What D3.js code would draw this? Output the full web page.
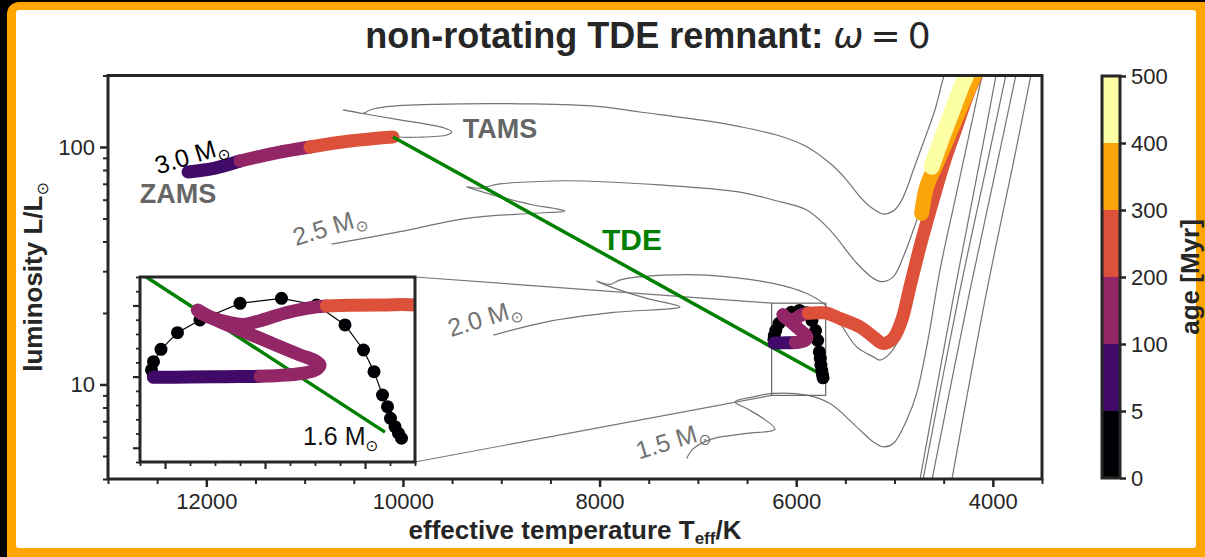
<!DOCTYPE html>
<html>
<head>
<meta charset="utf-8">
<script src="https://cdn.jsdelivr.net/npm/d3@7"></script>
<style>
  html, body { margin: 0; padding: 0; background: #000; }
  svg { display: block; font-family: "Liberation Sans", Arial, sans-serif; }
</style>
</head>
<body>
<svg id="chart" width="1205" height="557"></svg>
<script>
// ---------- axes ----------
const tempDomain = [13000, 3500];
const lumDomain = [4, 200];
const tempTicks = [12000, 10000, 8000, 6000, 4000];
const tempMinor = d3.range(3500, 13001, 500).filter(t => !tempTicks.includes(t));
const lumTicks = [10, 100];
const lumMinor = [4, 5, 6, 7, 8, 9, 20, 30, 40, 50, 60, 70, 80, 90, 200];

// zoom window
const insetTemp = [6250, 5700];
const insetLum = [9, 22];
const insetTempMajor = [6200, 6000, 5800];
const insetTempMinor = d3.range(5700, 6251, 50).filter(t => !insetTempMajor.includes(t));
const insetLumMajor = [10, 15, 20];
const insetLumMinor = d3.range(9, 23, 1).filter(l => !insetLumMajor.includes(l));

// age colour bins (Myr)
const ageBounds = [0, 5, 100, 200, 300, 400, 500];
const ageColors = ["#000004", "#420a68", "#932667", "#dd513a", "#fca50a", "#fcffa4"];

// ---------- evolutionary tracks [Teff, L/Lsun] ----------
const track30 = [
  [10101, 110.2], [9860, 109.9], [9555, 112.3], [9504, 116.0], [9590, 120.6], [10030, 130.0],
  [10369, 137.4], [10607, 143.2], [10505, 140.8], [10403, 138.7], [10335, 143.2], [10165, 147.9],
  [9691, 151.3], [8674, 151.8], [7996, 147.9], [7589, 140.4], [6979, 130.0], [6572, 121.8],
  [6165, 111.3], [5893, 100.3], [5656, 85.4], [5504, 74.0], [5351, 61.7], [5229, 55.3],
  [5114, 52.2], [5016, 53.7], [4945, 57.9], [4873, 67.2], [4809, 80.0], [4690, 109.1],
  [4589, 143.2], [4504, 194.8], [4456, 221.6]
];
const track25 = [
  [10725, 39.0], [10030, 44.0], [9352, 50.1], [8674, 52.6], [8352, 53.7], [8471, 55.2],
  [8674, 57.0], [9013, 61.7], [9285, 66.5], [9352, 68.0], [9216, 67.0], [9148, 68.0],
  [9013, 69.9], [8674, 71.4], [8335, 72.1], [7386, 69.2], [6572, 64.6], [6233, 59.8],
  [5893, 54.3], [5656, 44.7], [5384, 32.4], [5216, 28.0], [5131, 27.1], [5013, 28.4],
  [4911, 34.5], [4809, 44.7], [4690, 62.8], [4538, 97.1], [4385, 143.2], [4273, 195.4], [4232, 221.6]
];
const track20 = [
  [9081, 16.13], [8538, 18.36], [7860, 20.11], [7182, 21.23], [7521, 23.03], [7860, 25.53],
  [8030, 27.25], [7894, 26.39], [7796, 27.51], [7589, 28.41], [7355, 28.88], [6911, 28.88],
  [6236, 26.65], [5893, 24.17], [5725, 21.95], [5555, 18.07], [5385, 14.40], [5216, 13.07],
  [5148, 12.66], [5046, 13.51], [4945, 15.87], [4843, 22.66], [4721, 36.8], [4589, 59.8],
  [4436, 97.1], [4314, 143.2], [4212, 195.4], [4172, 221.6]
];
const track15 = [
  [7114, 4.88], [7047, 5.37], [6844, 5.92], [6504, 6.22], [6216, 6.48], [6335, 7.19],
  [6504, 7.92], [6623, 8.45], [6437, 8.87], [6233, 9.17], [5893, 9.02], [5656, 8.32],
  [5385, 6.63], [5216, 5.73], [5114, 5.46], [5013, 5.64], [4877, 7.07], [4775, 9.17],
  [4660, 15.37], [4538, 30.3], [4385, 59.8], [4253, 107.0], [4114, 195.4], [4080, 221.6]
];
// giant branches of the lower-mass tracks
const rgbLow1 = [[4761, 3.59], [4406, 22.66], [4111, 97.1], [3948, 221.6]];
const rgbLow2 = [[4731, 3.59], [4355, 22.66], [4029, 97.1], [3846, 221.6]];
const rgbLow3 = [[4640, 3.59], [4253, 22.66], [3927, 97.1], [3744, 221.6]];
const rgbLow4 = [[4436, 3.59], [4080, 22.66], [3765, 97.1], [3592, 221.6]];

// 3.0 Msun main sequence before the disruption [Teff, L, age]
const ms30 = [
  [12186, 78.5, 6], [11912, 81.5, 50], [11657, 87.3, 100], [11301, 94.3, 150],
  [10946, 100.0, 200], [10539, 106.0, 250], [10101, 110.2, 290]
];

// tidal disruption jump
const tdeStart = [10101, 110.2];
const tdeEnd = [5760, 11.1];

// remnant evolution [Teff, L, age]
const remnantEarly = [
  [5727, 10.67, 0.0], [5733, 11.02, 0.1], [5740, 11.48, 0.2], [5749, 12.07, 0.35],
  [5755, 12.89, 0.5], [5765, 13.71, 0.7], [5782, 15.35, 1.0], [5803, 16.87, 1.3],
  [5840, 18.63, 1.7], [5897, 20.03, 2.1], [5967, 20.5, 2.5], [6050, 20.15, 2.9],
  [6130, 18.98, 3.3], [6175, 18.09, 3.7], [6208, 16.92, 4.1], [6223, 16.05, 4.4],
  [6227, 15.47, 4.7], [6223, 15.0, 4.95]
];
const remnantMain = [
  [6223, 14.95, 5], [6150, 14.97, 30], [6080, 14.99, 60],
  [6010, 15.02, 100], [5957, 15.11, 108], [5917, 15.28, 115], [5897, 15.51, 120],
  [5890, 15.82, 125], [5900, 16.12, 130], [5930, 16.52, 135], [5983, 17.29, 142],
  [6037, 18.09, 150], [6090, 18.86, 158], [6130, 19.49, 165], [6135, 19.68, 168],
  [6110, 19.21, 172], [6070, 18.79, 177], [6043, 18.67, 181], [6010, 18.93, 185],
  [5963, 19.44, 190], [5917, 19.80, 195],
  [5877, 19.96, 200], [5830, 20.01, 205], [5763, 20.03, 212], [5700, 20.03, 218],
  [5555, 18.97, 230], [5352, 17.48, 240], [5216, 15.87, 246], [5114, 14.89, 250],
  [5013, 15.67, 254], [4927, 18.66, 258], [4843, 25.78, 263], [4741, 38.0, 268],
  [4657, 50.84, 272], [4589, 63.8, 276], [4487, 88.1, 281], [4368, 121.8, 286],
  [4250, 168.4, 291], [4182, 194.8, 294], [4131, 221.6, 296]
];
const remnantClump = [
  [4724, 52.6, 310], [4673, 68.0, 330], [4571, 85.4, 350], [4470, 107.0, 365],
  [4368, 134.2, 380], [4266, 168.4, 390], [4199, 194.8, 395], [4151, 221.6, 398]
];
const remnantLate = [
  [4622, 82.6, 410], [4538, 103.7, 430], [4436, 134.2, 450], [4334, 173.9, 470],
  [4283, 194.8, 480], [4232, 221.6, 490]
];

// ---------- layout ----------
const svg = d3.select("#chart");
const ink = "#262626";
const grey = "#737373";
const plot = { left: 108, right: 1042, top: 75.5, bottom: 479 };
const inset = { left: 140, right: 415, top: 277, bottom: 462 };

const x = d3.scaleLinear().domain(tempDomain).range([plot.left, plot.right]);
const y = d3.scaleLog().domain(lumDomain).range([plot.bottom, plot.top]);
const xi = d3.scaleLinear().domain(insetTemp).range([inset.left, inset.right]);
const yi = d3.scaleLinear().domain(insetLum).range([inset.bottom, inset.top]);
const ageColor = d3.scaleThreshold().domain(ageBounds.slice(1, -1)).range(ageColors);

// card frame
svg.append("rect").attr("x", 7).attr("y", 2).attr("width", 1215).attr("height", 570)
  .attr("rx", 12).attr("fill", "#ffa500");
svg.append("rect").attr("x", 16).attr("y", 10).attr("width", 1180).attr("height", 538)
  .attr("rx", 3).attr("fill", "#fff");

const defs = svg.append("defs");
defs.append("clipPath").attr("id", "clipMain").append("rect")
  .attr("x", plot.left).attr("y", plot.top)
  .attr("width", plot.right - plot.left).attr("height", plot.bottom - plot.top);
defs.append("clipPath").attr("id", "clipInset").append("rect")
  .attr("x", inset.left).attr("y", inset.top)
  .attr("width", inset.right - inset.left).attr("height", inset.bottom - inset.top);

function lineGen(xs, ys, curve) {
  return d3.line().x(d => xs(d[0])).y(d => ys(d[1])).curve(curve || d3.curveCatmullRom.alpha(0.5));
}

// thick track coloured by age bin; each run reaches the first point of the next run
function drawAged(g, pts, xs, ys, width) {
  const bin = a => d3.bisectRight(ageBounds.slice(1, -1), a);
  const runs = [];
  pts.forEach(p => {
    const b = bin(p[2]);
    if (!runs.length || runs[runs.length - 1].b !== b) {
      if (runs.length) runs[runs.length - 1].pts.push(p);
      runs.push({ b, pts: [p] });
    } else runs[runs.length - 1].pts.push(p);
  });
  runs.forEach(r => {
    g.append("path").attr("d", lineGen(xs, ys)(r.pts))
      .attr("fill", "none").attr("stroke", ageColors[r.b])
      .attr("stroke-width", width).attr("stroke-linecap", "round").attr("stroke-linejoin", "round");
  });
}

function drawRemnant(g, xs, ys) {
  g.append("path").attr("d", lineGen(xs, ys, d3.curveLinear)([tdeStart, tdeEnd]))
    .attr("stroke", "#008000").attr("stroke-width", 3.5).attr("fill", "none");
  g.append("path").attr("d", lineGen(xs, ys, d3.curveLinear)(remnantEarly))
    .attr("stroke", "#000").attr("stroke-width", 1.2).attr("fill", "none");
  g.selectAll(null).data(remnantEarly).enter().append("circle")
    .attr("cx", d => xs(d[0])).attr("cy", d => ys(d[1])).attr("r", 6.5)
    .attr("fill", d => ageColor(d[2]));
  drawAged(g, remnantMain, xs, ys, 13);
  drawAged(g, remnantClump, xs, ys, 15);
  drawAged(g, remnantLate, xs, ys, 16);
}

// ---------- main panel ----------
const main = svg.append("g").attr("clip-path", "url(#clipMain)");
[track30, track25, track20, track15, rgbLow1, rgbLow2, rgbLow3, rgbLow4].forEach(t => {
  main.append("path").attr("d", lineGen(x, y)(t)).attr("fill", "none")
    .attr("stroke", grey).attr("stroke-width", 1.2);
});

// zoom box and connectors
const bx0 = x(insetTemp[0]), bx1 = x(insetTemp[1]), by0 = y(insetLum[1]), by1 = y(insetLum[0]);
main.append("rect").attr("x", bx0).attr("y", by0).attr("width", bx1 - bx0).attr("height", by1 - by0)
  .attr("fill", "none").attr("stroke", "#666").attr("stroke-width", 1.2);
main.append("line").attr("x1", inset.right).attr("y1", inset.top).attr("x2", bx0).attr("y2", by0)
  .attr("stroke", "#777").attr("stroke-width", 1.2);
main.append("line").attr("x1", inset.right).attr("y1", inset.bottom).attr("x2", bx0).attr("y2", by1)
  .attr("stroke", "#777").attr("stroke-width", 1.2);

drawAged(main, ms30, x, y, 13);
drawRemnant(main, x, y);

// ---------- labels ----------
function msun(sel, txt, size) {
  sel.text(txt + " M");
  sel.append("tspan").attr("font-family", "DejaVu Sans").attr("font-size", size * 0.62)
    .attr("dy", size * 0.22).text("\u2299");
}
const labels = svg.append("g");
[
  { t: "3.0", px: 194, py: 163.5, c: "#000" },
  { t: "2.5", px: 332, py: 235, c: grey },
  { t: "2.0", px: 487, py: 326, c: grey },
  { t: "1.5", px: 675, py: 448.5, c: grey }
].forEach(l => {
  const s = labels.append("text").attr("transform", `translate(${l.px},${l.py}) rotate(-17)`)
    .attr("text-anchor", "middle").attr("font-size", 25).attr("fill", l.c);
  msun(s, l.t, 25);
});
labels.append("text").attr("x", 178).attr("y", 203).attr("text-anchor", "middle")
  .attr("font-size", 27).attr("font-weight", "bold").attr("fill", "#666").text("ZAMS");
labels.append("text").attr("x", 500).attr("y", 138).attr("text-anchor", "middle")
  .attr("font-size", 27).attr("font-weight", "bold").attr("fill", "#666").text("TAMS");
labels.append("text").attr("x", 632).attr("y", 250).attr("text-anchor", "middle")
  .attr("font-size", 30).attr("font-weight", "bold").attr("fill", "#008000").text("TDE");

// ---------- axes ----------
function styleAxis(g) {
  g.select(".domain").remove();
  g.selectAll("line").attr("stroke", ink);
  g.selectAll("text").attr("fill", ink).attr("font-size", 22)
    .attr("font-family", "Liberation Sans, Arial, sans-serif");
}
const xMajor = svg.append("g").attr("transform", `translate(0,${plot.bottom})`)
  .call(d3.axisBottom(x).tickValues(tempTicks).tickSize(8).tickPadding(6).tickFormat(d3.format("d")));
styleAxis(xMajor); xMajor.selectAll("line").attr("stroke-width", 2.5);
const xMin = svg.append("g").attr("transform", `translate(0,${plot.bottom})`)
  .call(d3.axisBottom(x).tickValues(tempMinor).tickSize(5).tickFormat(""));
styleAxis(xMin); xMin.selectAll("line").attr("stroke-width", 2);

const yMajor = svg.append("g").attr("transform", `translate(${plot.left},0)`)
  .call(d3.axisLeft(y).tickValues(lumTicks).tickSize(8).tickPadding(5).tickFormat(d3.format("d")));
styleAxis(yMajor); yMajor.selectAll("line").attr("stroke-width", 2.5);
const yMin = svg.append("g").attr("transform", `translate(${plot.left},0)`)
  .call(d3.axisLeft(y).tickValues(lumMinor).tickSize(5).tickFormat(""));
styleAxis(yMin); yMin.selectAll("line").attr("stroke-width", 2);

svg.append("rect").attr("x", plot.left).attr("y", plot.top)
  .attr("width", plot.right - plot.left).attr("height", plot.bottom - plot.top)
  .attr("fill", "none").attr("stroke", ink).attr("stroke-width", 3);

// axis titles
const xt = svg.append("text").attr("x", (plot.left + plot.right) / 2).attr("y", 539)
  .attr("text-anchor", "middle").attr("font-size", 26).attr("font-weight", "bold").attr("fill", ink)
  .text("effective temperature T");
xt.append("tspan").attr("font-size", 17).attr("dy", 5).text("eff");
xt.append("tspan").attr("dy", -5).text("/K");

const yt = svg.append("text").attr("transform", "translate(42,277) rotate(-90)")
  .attr("text-anchor", "middle").attr("font-size", 26).attr("font-weight", "bold").attr("fill", ink)
  .text("luminosity L/L");
yt.append("tspan").attr("font-family", "DejaVu Sans").attr("font-weight", "normal")
  .attr("font-size", 16).attr("dy", 6).text("\u2299");

// title
const title = svg.append("text").attr("x", 648).attr("y", 48).attr("text-anchor", "middle")
  .attr("font-size", 36).attr("font-weight", "bold").attr("fill", ink)
  .text("non-rotating TDE remnant: ");
title.append("tspan").attr("font-family", "DejaVu Sans").attr("font-style", "italic")
  .attr("font-weight", "normal").text("\u03c9");
title.append("tspan").attr("font-family", "DejaVu Sans").attr("font-weight", "normal").text("\u2009=\u20090");

// ---------- inset ----------
const insetG = svg.append("g");
insetG.append("rect").attr("x", inset.left).attr("y", inset.top)
  .attr("width", inset.right - inset.left).attr("height", inset.bottom - inset.top).attr("fill", "#fff");
const insetPlot = insetG.append("g").attr("clip-path", "url(#clipInset)");
drawRemnant(insetPlot, xi, yi);
const l16 = insetG.append("text").attr("x", 303).attr("y", 445).attr("font-size", 25).attr("fill", "#111");
msun(l16, "1.6", 25);

const ixMaj = insetG.append("g").attr("transform", `translate(0,${inset.bottom})`)
  .call(d3.axisBottom(xi).tickValues(insetTempMajor).tickSize(7).tickFormat(""));
styleAxis(ixMaj); ixMaj.selectAll("line").attr("stroke-width", 2.2);
const ixMin = insetG.append("g").attr("transform", `translate(0,${inset.bottom})`)
  .call(d3.axisBottom(xi).tickValues(insetTempMinor).tickSize(4).tickFormat(""));
styleAxis(ixMin); ixMin.selectAll("line").attr("stroke-width", 1.8);
const iyMaj = insetG.append("g").attr("transform", `translate(${inset.left},0)`)
  .call(d3.axisLeft(yi).tickValues(insetLumMajor).tickSize(7).tickFormat(""));
styleAxis(iyMaj); iyMaj.selectAll("line").attr("stroke-width", 2.2);
const iyMin = insetG.append("g").attr("transform", `translate(${inset.left},0)`)
  .call(d3.axisLeft(yi).tickValues(insetLumMinor).tickSize(4).tickFormat(""));
styleAxis(iyMin); iyMin.selectAll("line").attr("stroke-width", 1.8);
insetG.append("rect").attr("x", inset.left).attr("y", inset.top)
  .attr("width", inset.right - inset.left).attr("height", inset.bottom - inset.top)
  .attr("fill", "none").attr("stroke", ink).attr("stroke-width", 3);

// ---------- colour bar ----------
const cb = { x: 1102, w: 18, top: 76, bottom: 478 };
const cbY = d3.scaleLinear().domain([0, ageBounds.length - 1]).range([cb.bottom, cb.top]);
const cbG = svg.append("g");
cbG.selectAll(null).data(ageColors).enter().append("rect")
  .attr("x", cb.x).attr("width", cb.w)
  .attr("y", (d, i) => cbY(i + 1)).attr("height", (d, i) => cbY(i) - cbY(i + 1))
  .attr("fill", d => d);
cbG.append("rect").attr("x", cb.x).attr("y", cb.top).attr("width", cb.w).attr("height", cb.bottom - cb.top)
  .attr("fill", "none").attr("stroke", ink).attr("stroke-width", 3);
const cbAxis = cbG.append("g").attr("transform", `translate(${cb.x + cb.w},0)`)
  .call(d3.axisRight(cbY).tickValues(d3.range(ageBounds.length)).tickSize(6).tickPadding(5)
    .tickFormat(i => ageBounds[i]));
styleAxis(cbAxis); cbAxis.selectAll("line").attr("stroke-width", 2.5);
cbG.append("text").attr("transform", `translate(1199,${(cb.top + cb.bottom) / 2}) rotate(-90)`)
  .attr("text-anchor", "middle").attr("font-size", 26).attr("font-weight", "bold").attr("fill", ink)
  .text("age [Myr]");
</script>
</body>
</html>
